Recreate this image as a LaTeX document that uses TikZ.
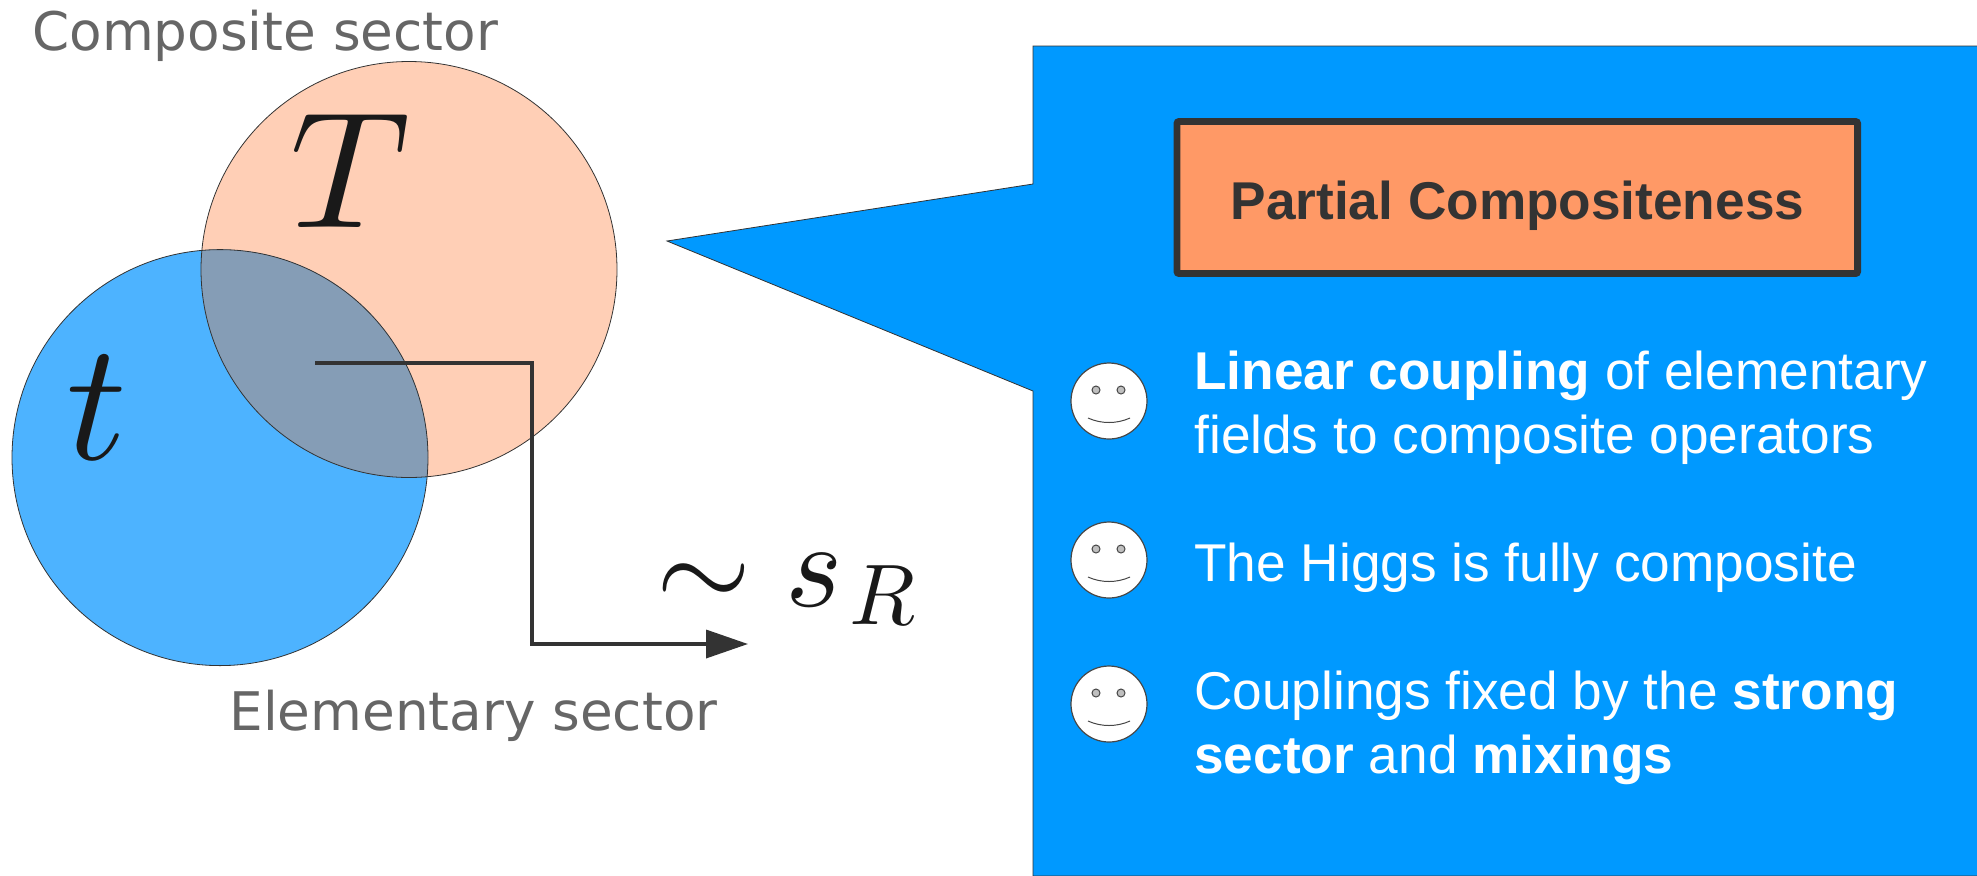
\documentclass[tikz,border=0pt]{standalone}
\usepackage{fontspec}
\setmainfont{Liberation Sans}
\newfontfamily\djv{DejaVu Sans}
\usetikzlibrary{arrows.meta}
\definecolor{orangefill}{HTML}{FFCFB6}
\definecolor{bluefill}{HTML}{4DB3FF}
\definecolor{mixfill}{HTML}{859DB6}
\definecolor{callout}{HTML}{0099FF}
\definecolor{boxfill}{HTML}{FF9966}
\definecolor{dark}{HTML}{333333}
\definecolor{graytext}{HTML}{666666}
\tikzset{
  sector/.style={draw=dark,line width=0.4pt},
  lab/.style={inner sep=0pt,anchor=base west},
  mathlab/.style={inner sep=0pt,anchor=base west,text=black!90,scale=#1},
  sectorlabel/.style={lab,text=graytext,font=\djv\fontsize{26.6}{26.6}\selectfont},
  bodytext/.style={lab,text=white,font=\fontsize{26.6}{26.6}\selectfont},
  face/.style={draw=dark!90,fill=white,line width=0.6pt},
  eye/.style={draw=dark!90,fill=black!25,line width=0.5pt},
  smile/.style={draw=dark!90,line width=0.5pt},
  connector/.style={draw=dark,line width=1.8pt,-{Triangle[length=21pt,width=14pt]}},
}
\newcommand{\smiley}[2]{%
  \coordinate (#2) at (1109,#1);
  \draw[face] (#2) circle (19pt);
  \draw[eye] ([shift={(-13,-11)}]#2) circle (2pt);
  \draw[eye] ([shift={(12,-11)}]#2) circle (2pt);
  \draw[smile] ([shift={(-21,17)}]#2) .. controls ([shift={(-8,23)}]#2) and ([shift={(8,23)}]#2) .. ([shift={(21,17)}]#2);
}
\begin{document}
\begin{tikzpicture}[x=0.5pt,y=-0.5pt]
\useasboundingbox (0,0) rectangle (1977,875);
\coordinate (oc) at (409,269.5);
\coordinate (bc) at (220,457.6);
\fill[orangefill] (oc) circle (104pt);
\fill[bluefill] (bc) circle (104pt);
\begin{scope}
  \clip (oc) circle (104pt);
  \fill[mixfill] (bc) circle (104pt);
\end{scope}
\draw[sector] (oc) circle (104pt);
\draw[sector] (bc) circle (104pt);
\node[sectorlabel] (comp) at (32,50) {Composite sector};
\node[sectorlabel] (elem) at (229,730) {Elementary sector};
\node[mathlab=8.3] (T) at (287,227) {$T$};
\node[mathlab=8.4] (t) at (63,459) {$t$};
\node[mathlab=6.1] (tilde) at (654,608) {$\sim$};
\node[mathlab=6.1] (s) at (783,606) {$s$};
\node[mathlab=4.3] (R) at (848,624) {$R$};
\coordinate (cstart) at (315,363);
\coordinate (ccorner) at (531.7,644);
\coordinate (cend) at (748,644);
\draw[connector] (cstart) -| (ccorner) -- (cend);
\fill[callout,draw=dark,line width=0.4pt] (1978,46) -- (1033,46) -- (1033,184) -- (667,241) -- (1033,391) -- (1033,876) -- (1978,876);
\node[draw=dark,fill=boxfill,line width=3.4pt,rounded corners=1pt,minimum width=340.3pt,minimum height=76pt,inner sep=0pt] (title) at (1517.3,197.5) {};
\node[inner sep=0pt,anchor=base,text=dark,font=\bfseries\fontsize{26.6}{26.6}\selectfont] (titletext) at (1517.5,219.3) {Partial Compositeness};
\smiley{401}{f1}
\smiley{560}{f2}
\smiley{704}{f3}
\node[bodytext] (b1) at (1194,389) {\textbf{Linear coupling} of elementary};
\node[bodytext] (b2) at (1194,453) {fields to composite operators};
\node[bodytext] (b3) at (1194,581) {The Higgs is fully composite};
\node[bodytext] (b4) at (1194,709) {Couplings fixed by the \textbf{strong}};
\node[bodytext] (b5) at (1194,773) {\textbf{sector} and \textbf{mixings}};
\end{tikzpicture}
\end{document}
